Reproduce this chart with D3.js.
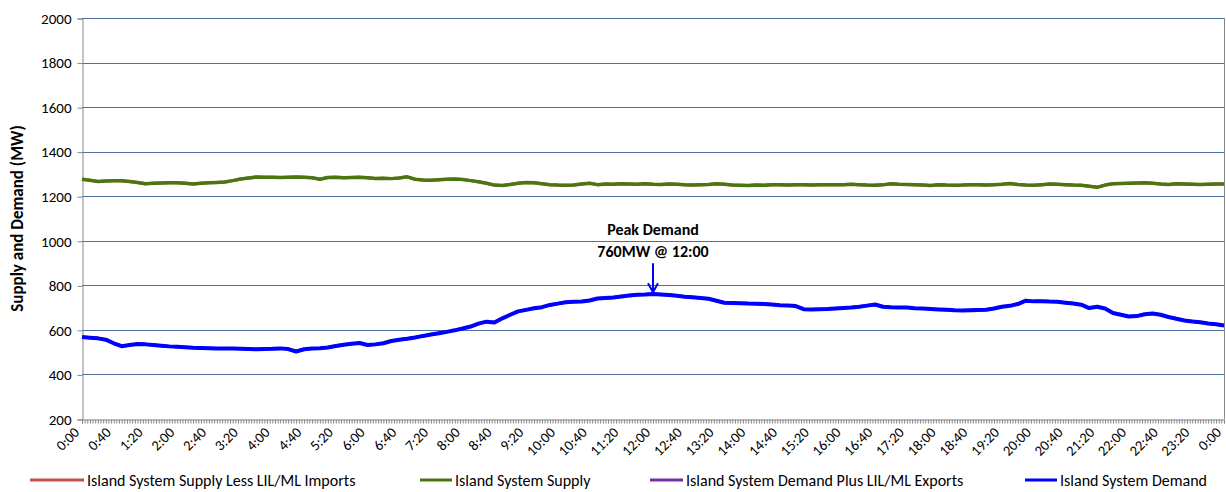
<!DOCTYPE html>
<html>
<head>
<meta charset="utf-8">
<script src="https://cdn.jsdelivr.net/npm/d3@7/dist/d3.min.js"></script>
<style>
body { margin: 0; background: #fff; }
text { font-family: Carlito, Calibri, Lato, sans-serif; fill: #000; }
</style>
</head>
<body>
<script>
// minutes between readings
var step = 10;

// Island System Demand, one row per hour (:00 :10 :20 :30 :40 :50), last value = 24:00
var demand = [
    568, 565, 562, 556, 540, 527,
    532, 537, 535, 532, 529, 526,
    524, 522, 520, 519, 518, 517,
    516, 516, 515, 514, 513, 514,
    515, 517, 514, 503, 513, 516,
    518, 521, 528, 533, 538, 541,
    532, 535, 540, 550, 556, 560,
    566, 573, 579, 585, 591, 598,
    606, 615, 628, 637, 633, 652,
    668, 683, 690, 697, 702, 712,
    718, 724, 726, 727, 732, 741,
    743, 745, 750, 754, 758, 759,
    761, 759, 757, 753, 749, 746,
    743, 740, 731, 722, 721, 720,
    718, 717, 716, 714, 711, 709,
    707, 693, 692, 693, 694, 696,
    698, 700, 704, 709, 714, 704,
    702, 701, 700, 697, 696, 694,
    692, 690, 688, 687, 688, 689,
    690, 696, 704, 708, 716, 731,
    728, 729, 727, 726, 722, 718,
    713, 698, 704, 696, 676, 668,
    660, 662, 670, 674, 668, 658,
    650, 642, 638, 634, 629, 625,
    620
];

// Island System Supply
var supply = [
    1276, 1272, 1266, 1268, 1270, 1269,
    1266, 1262, 1256, 1258, 1259, 1260,
    1261, 1258, 1255, 1258, 1260, 1262,
    1264, 1270, 1277, 1282, 1286, 1285,
    1285, 1284, 1285, 1286, 1285, 1283,
    1276, 1284, 1285, 1283, 1284, 1285,
    1283, 1280, 1281, 1279, 1282, 1287,
    1276, 1273, 1272, 1274, 1276, 1277,
    1275, 1270, 1265, 1258, 1250, 1248,
    1253, 1258, 1262, 1260, 1256, 1252,
    1250, 1249, 1250, 1255, 1258, 1252,
    1255, 1254, 1256, 1255, 1254, 1256,
    1254, 1253, 1255, 1254, 1251, 1250,
    1252, 1253, 1256, 1254, 1250, 1249,
    1248, 1250, 1249, 1251, 1252, 1250,
    1251, 1252, 1250, 1251, 1252, 1251,
    1252, 1254, 1252, 1250, 1249, 1251,
    1256, 1254, 1253, 1252, 1250, 1248,
    1252, 1250, 1249, 1250, 1252, 1251,
    1250, 1252, 1254, 1257, 1253, 1250,
    1249, 1252, 1255, 1254, 1252, 1250,
    1249, 1245, 1240, 1250, 1256, 1257,
    1258, 1259, 1260, 1258, 1255, 1253,
    1256, 1255, 1254, 1253, 1254, 1255,
    1255
];

// supply less imports / demand plus exports sit under the other two lines (no flow on the link)
var supplyLessImports = supply;
var demandPlusExports = demand;

var tickLabels = ["0:00","0:40","1:20","2:00","2:40","3:20","4:00","4:40","5:20","6:00",
    "6:40","7:20","8:00","8:40","9:20","10:00","10:40","11:20","12:00","12:40","13:20",
    "14:00","14:40","15:20","16:00","16:40","17:20","18:00","18:40","19:20","20:00",
    "20:40","21:20","22:00","22:40","23:20","0:00"];
var tickEvery = 40; // minutes between labels

var yTicks = [200, 400, 600, 800, 1000, 1200, 1400, 1600, 1800, 2000];

var legendNames = ["Island System Supply Less LIL/ML Imports", "Island System Supply",
    "Island System Demand Plus LIL/ML Exports", "Island System Demand"];
var legendColors = ["#c0504d", "#4b7510", "#7030a0", "#0000ff"];

var peakValue = 760, peakLabel = "12:00", peakMinute = 720;

// layout
var W = 1226, H = 492;
var pLeft = 82, pRight = 1224, pTop = 18, pBottom = 419;

var x = d3.scaleLinear().domain([0, 1440]).range([pLeft, pRight]);
var y = d3.scaleLinear().domain([200, 2000]).range([pBottom, pTop]);

var svg = d3.select("body").append("svg")
    .attr("width", W)
    .attr("height", H);

// gridlines
svg.append("g").selectAll("line").data(yTicks.slice(1)).enter().append("line")
    .attr("x1", pLeft).attr("x2", pRight)
    .attr("y1", function(d) { return Math.round(y(d)) + 0.5; })
    .attr("y2", function(d) { return Math.round(y(d)) + 0.5; })
    .style("stroke", "#4a6fa0")
    .style("stroke-width", 1);

// right border
svg.append("line")
    .attr("x1", pRight + 0.5).attr("x2", pRight + 0.5)
    .attr("y1", pTop).attr("y2", pBottom)
    .style("stroke", "#868686");

// y axis
var yAxis = svg.append("g")
    .attr("transform", "translate(" + (pLeft + 0.5) + ",0.5)")
    .call(d3.axisLeft(y).tickValues(yTicks).tickFormat(d3.format("d")).tickSize(5).tickPadding(6));
yAxis.select(".domain").style("stroke", "#868686");
yAxis.selectAll(".tick line").style("stroke", "#868686");
yAxis.selectAll("text").style("font-size", "15px").style("font-family", "Carlito, Calibri, Lato, sans-serif");

// x axis: minor ticks
var minor = d3.range(0, 1440 + 0.01, tickEvery / 12);
var xAxis = svg.append("g")
    .attr("transform", "translate(0," + (pBottom + 0.5) + ")")
    .call(d3.axisBottom(x).tickValues(minor).tickSize(4).tickFormat(""));
xAxis.select(".domain").style("stroke", "#868686");
xAxis.selectAll(".tick line").style("stroke", "#868686");

// x labels rotated
svg.append("g").selectAll("text").data(tickLabels).enter().append("text")
    .attr("transform", function(d, i) {
        return "translate(" + (x(i * tickEvery) - 5) + "," + (pBottom + 11) + ") rotate(-45)";
    })
    .attr("text-anchor", "end")
    .attr("dy", "0.32em")
    .style("font-size", "14.5px")
    .text(function(d) { return d; });

// y title
svg.append("text")
    .attr("transform", "translate(23," + ((pTop + pBottom) / 2) + ") rotate(-90)")
    .attr("text-anchor", "middle")
    .style("font-size", "17px")
    .style("font-weight", "bold")
    .text("Supply and Demand (MW)");

// lines
var line = d3.line()
    .x(function(d, i) { return x(i * step); })
    .y(function(d) { return y(d); });

var series = [
    {v: supplyLessImports, c: legendColors[0], w: 3},
    {v: supply, c: legendColors[1], w: 3.5},
    {v: demandPlusExports, c: legendColors[2], w: 3},
    {v: demand, c: legendColors[3], w: 4}
];
svg.append("g").selectAll("path").data(series).enter().append("path")
    .attr("d", function(d) { return line(d.v); })
    .style("fill", "none")
    .style("stroke", function(d) { return d.c; })
    .style("stroke-width", function(d) { return d.w; })
    .style("stroke-linejoin", "round");

// peak annotation
var px = x(peakMinute), py = y(peakValue);
svg.append("text")
    .attr("x", px).attr("y", py - 59)
    .attr("text-anchor", "middle")
    .style("font-size", "16px").style("font-weight", "bold")
    .text("Peak Demand");
svg.append("text")
    .attr("x", px).attr("y", py - 37)
    .attr("text-anchor", "middle")
    .style("font-size", "16px").style("font-weight", "bold")
    .text(peakValue + "MW @ " + peakLabel);
svg.append("line")
    .attr("x1", px).attr("x2", px)
    .attr("y1", py - 31).attr("y2", py - 3)
    .style("stroke", "#0000ff").style("stroke-width", 2);
svg.append("path")
    .attr("d", "M" + (px - 5) + "," + (py - 11) + "L" + px + "," + (py - 2) + "L" + (px + 5) + "," + (py - 11))
    .style("fill", "none").style("stroke", "#0000ff").style("stroke-width", 2);

// legend
var legendX = [30, 420, 650, 1025];
var legendLen = [54, 32, 33, 32];
var lg = svg.append("g").selectAll("g").data(legendNames).enter().append("g")
    .attr("transform", function(d, i) { return "translate(" + legendX[i] + ",480)"; });
lg.append("line")
    .attr("x1", 0).attr("x2", function(d, i) { return legendLen[i]; })
    .style("stroke", function(d, i) { return legendColors[i]; })
    .style("stroke-width", 3);
lg.append("text")
    .attr("x", function(d, i) { return legendLen[i] + 3; }).attr("dy", "0.35em")
    .style("font-size", "16px")
    .text(function(d) { return d; });
</script>
</body>
</html>
